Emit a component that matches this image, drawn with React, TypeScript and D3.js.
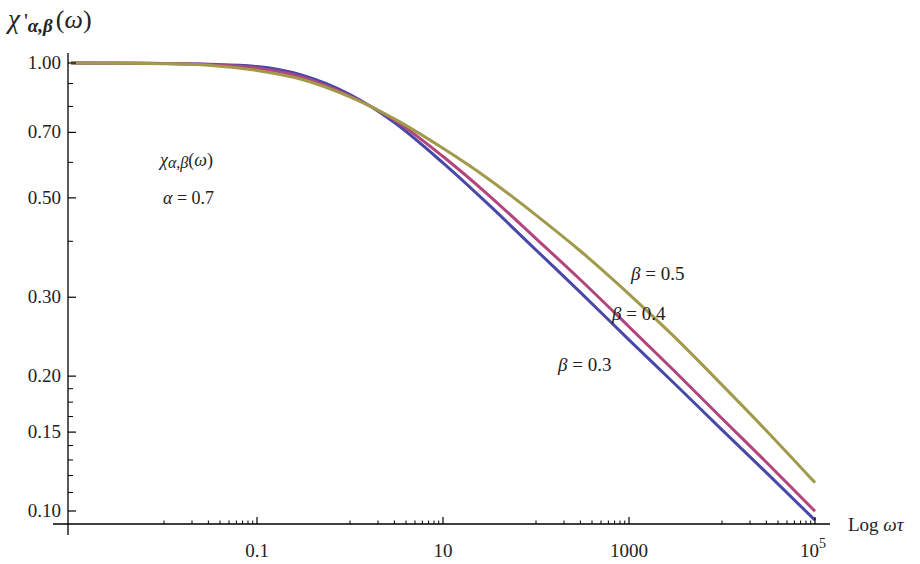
import React from 'react';
import * as d3 from 'd3';

const xValues = [0.001, 0.003, 0.01, 0.03, 0.1, 0.3, 1, 3, 10, 30, 100, 300, 1000, 3000, 10000, 30000, 100000];
const beta03 = [1.0, 0.9995, 0.998, 0.9938, 0.9822, 0.9407, 0.8505, 0.7364, 0.5983, 0.4858, 0.3825, 0.3077, 0.241, 0.1936, 0.1517, 0.1218, 0.0954];
const beta04 = [1.0, 0.9992, 0.9974, 0.9918, 0.9746, 0.9311, 0.844, 0.7461, 0.6183, 0.5099, 0.4057, 0.3282, 0.2578, 0.2064, 0.1609, 0.1285, 0.0999];
const beta05 = [1.0, 0.999, 0.9964, 0.9888, 0.9622, 0.9197, 0.84, 0.7502, 0.6449, 0.5532, 0.4577, 0.3805, 0.3049, 0.2459, 0.1912, 0.1511, 0.1157];

const seriesNames = ['β = 0.3', 'β = 0.4', 'β = 0.5'];
const seriesColors = ['#4848aa', '#b3457d', '#a09a4a'];

const xMajorTicks = [0.1, 10, 1000, 100000];
const xMajorLabels = ['0.1', '10', '1000', '10^5'];
const xMinorTicks = [
  0.01, 0.02, 0.03, 0.04, 0.05, 0.06, 0.07, 0.08, 0.09,
  1, 2, 3, 4, 5, 6, 7, 8, 9,
  100, 200, 300, 400, 500, 600, 700, 800, 900,
  10000, 20000, 30000, 40000, 50000, 60000, 70000, 80000, 90000,
];
const yMajorTicks = [0.1, 0.15, 0.2, 0.3, 0.5, 0.7, 1.0];
const yMajorLabels = ['0.10', '0.15', '0.20', '0.30', '0.50', '0.70', '1.00'];
const yMinorTicks = [0.11, 0.12, 0.13, 0.14, 0.1625, 0.175, 0.1875, 0.4, 0.6, 0.8, 0.9];

const W = 920;
const H = 564;
const FONT = "'Liberation Serif', 'DejaVu Serif', serif";

export default function App() {
  const x = d3.scaleLog().domain([1e-3, 1e5]).range([71, 815]);
  const y = d3.scaleLog().domain([0.1, 1]).range([511, 63]);
  const axisX = 68;
  const axisY = 524;

  const allSeries = [beta03, beta04, beta05];
  const line = d3
    .line<[number, number]>()
    .x((d) => x(d[0]))
    .y((d) => y(d[1]))
    .curve(d3.curveMonotoneX);

  const labelPos = [
    { lx: 558, ly: 371 },
    { lx: 612, ly: 320 },
    { lx: 631, ly: 280 },
  ];

  return (
    <svg
      width={W}
      height={H}
      style={{ position: 'absolute', left: 0, top: 0, background: '#fff', fontFamily: FONT }}
    >
      <rect width={W} height={H} fill="#fff" />
      {allSeries.map((vals, i) => (
        <path
          key={i}
          d={line(xValues.map((xv, j) => [xv, vals[j]] as [number, number])) || ''}
          fill="none"
          stroke={seriesColors[i]}
          strokeWidth={3}
          strokeLinejoin="round"
        />
      ))}

      <line x1={axisX} x2={axisX} y1={53} y2={535} stroke="#000" strokeWidth={1.3} />
      <line x1={53} x2={830} y1={axisY} y2={axisY} stroke="#000" strokeWidth={1.3} />

      {yMajorTicks.map((t, i) => (
        <g key={'ym' + i}>
          <line x1={axisX} x2={axisX + 8} y1={y(t)} y2={y(t)} stroke="#000" strokeWidth={1.2} />
          <text x={61} y={y(t) + 6} textAnchor="end" fontSize={19} fill="#222">
            {yMajorLabels[i]}
          </text>
        </g>
      ))}
      {yMinorTicks.map((t, i) => (
        <line key={'yn' + i} x1={axisX} x2={axisX + 5} y1={y(t)} y2={y(t)} stroke="#000" strokeWidth={1} />
      ))}

      {xMajorTicks.map((t, i) => (
        <g key={'xm' + i}>
          <line x1={x(t)} x2={x(t)} y1={axisY} y2={axisY - 7} stroke="#000" strokeWidth={1.2} />
          {xMajorLabels[i].includes('^') ? (
            <text x={x(t) - 2} y={557} textAnchor="middle" fontSize={19} fill="#222">
              {xMajorLabels[i].split('^')[0]}
              <tspan fontSize={14} dy={-9}>
                {xMajorLabels[i].split('^')[1]}
              </tspan>
            </text>
          ) : (
            <text x={x(t)} y={557} textAnchor="middle" fontSize={19} fill="#222">
              {xMajorLabels[i]}
            </text>
          )}
        </g>
      ))}
      {xMinorTicks.map((t, i) => (
        <line key={'xn' + i} x1={x(t)} x2={x(t)} y1={axisY} y2={axisY - 3.5} stroke="#000" strokeWidth={1} />
      ))}

      <text x={8} y={28} fontSize={27} fill="#222">
        <tspan fontStyle="italic">χ</tspan>
        <tspan fontSize={22} dx={4}>'</tspan>
        <tspan fontSize={19} fontStyle="italic" fontWeight="bold" dy={4}>α,β</tspan>
        <tspan fontSize={26} dy={-4} dx={3}>(</tspan>
        <tspan fontSize={26} fontStyle="italic">ω</tspan>
        <tspan fontSize={26}>)</tspan>
      </text>
      <text x={848} y={531} fontSize={19} fill="#222">
        Log <tspan fontStyle="italic">ωτ</tspan>
      </text>

      <text x={160} y={166} fontSize={18} fill="#222">
        <tspan fontStyle="italic">χ</tspan>
        <tspan fontStyle="italic" fontSize={16} dy={2}>α</tspan>
        <tspan fontSize={16}>,</tspan>
        <tspan fontStyle="italic" fontSize={16}>β</tspan>
        <tspan dy={-2}>(</tspan>
        <tspan fontStyle="italic">ω</tspan>
        <tspan>)</tspan>
      </text>
      <text x={163} y={204} fontSize={18} fill="#222">
        <tspan fontStyle="italic">α</tspan> = 0.7
      </text>

      {seriesNames.map((nm, i) => (
        <text key={'lab' + i} x={labelPos[i].lx} y={labelPos[i].ly} fontSize={19} fill="#222">
          <tspan fontStyle="italic">β</tspan>
          {nm.slice(1)}
        </text>
      ))}
    </svg>
  );
}
